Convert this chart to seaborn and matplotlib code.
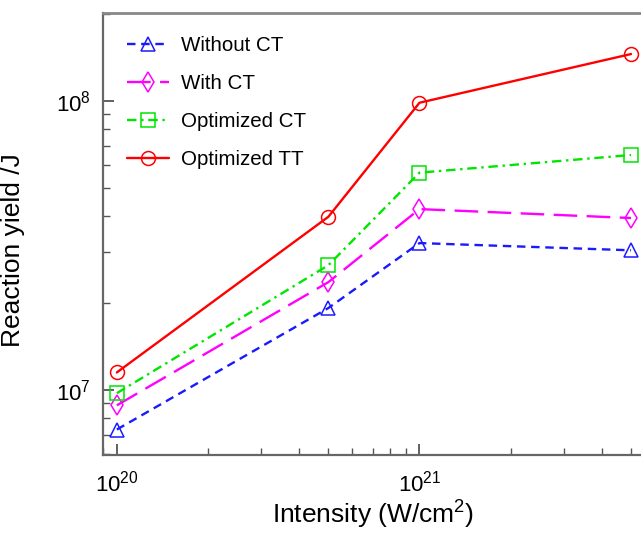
import matplotlib
matplotlib.use("Agg")
import matplotlib.pyplot as plt
import seaborn as sns
import pandas as pd

# ---- data ----
intensity = [1e20, 5e20, 1e21, 5e21]
without_ct = [7.3e6, 1.92e7, 3.22e7, 3.04e7]
with_ct = [8.85e6, 2.36e7, 4.22e7, 3.93e7]
optimized_ct = [9.75e6, 2.70e7, 5.64e7, 6.49e7]
optimized_tt = [1.15e7, 3.97e7, 9.84e7, 1.45e8]
series_names = ["Without CT", "With CT", "Optimized CT", "Optimized TT"]

sns.set_theme(style="white")
plt.rcParams["font.family"] = ["Liberation Sans", "DejaVu Sans"]
plt.rcParams["mathtext.fontset"] = "custom"
plt.rcParams["mathtext.rm"] = "Liberation Sans"
plt.rcParams["mathtext.it"] = "Liberation Sans:italic"
plt.rcParams["text.color"] = "black"
plt.rcParams["axes.labelcolor"] = "black"

fig = plt.figure(figsize=(6.41, 5.36), dpi=100)
ax = fig.add_axes([103 / 641, 81 / 536, 552 / 641, 442 / 536])

styles = {
    "Without CT": dict(color="#1a1aff", marker="^", linestyle=(0, (3.6, 2.4))),
    "With CT": dict(color="#ff00ff", marker="d", linestyle=(0, (10, 4))),
    "Optimized CT": dict(color="#00e600", marker="s", linestyle=(0, (4, 2, 1, 2))),
    "Optimized TT": dict(color="#ff0000", marker="o", linestyle="-"),
}
values = [without_ct, with_ct, optimized_ct, optimized_tt]

for name, vals in zip(series_names, values):
    df = pd.DataFrame({"x": intensity, "y": vals})
    st = styles[name]
    sns.lineplot(data=df, x="x", y="y", ax=ax, color=st["color"],
                 marker=st["marker"], linestyle=st["linestyle"],
                 linewidth=1.7, markersize=10, markerfacecolor="none",
                 markeredgecolor=st["color"], markeredgewidth=1.1,
                 label=name, legend=False)

ax.set_xscale("log")
ax.set_yscale("log")
ax.set_xlim(9.0e19, 6.0e21)
ax.set_ylim(5.96e6, 2.01e8)

ax.tick_params(which="both", direction="in", colors="#555555", labelcolor="black",
               labelsize=16)
ax.tick_params(which="major", length=8, width=1.3)
ax.tick_params(which="minor", length=5, width=1.0)
ax.tick_params(axis="x", which="both", bottom=True, top=False, pad=11)
ax.tick_params(axis="y", which="both", left=True, right=False, pad=9)

for side, sp in ax.spines.items():
    sp.set_color("#666666")
    sp.set_linewidth(1.6)
ax.spines["top"].set_color("#888888")
ax.spines["top"].set_linewidth(2.0)

ax.set_xlabel("Intensity (W/cm$^2$)", fontsize=19, labelpad=6)
ax.set_ylabel("Reaction yield /J", fontsize=19)
ax.yaxis.set_label_coords(-0.141, 1 - (250 - 13) / 442)
ax.xaxis.set_label_coords((373 - 103) / 552, -(531 - 455) / 442)
ax.xaxis.label.set_va("bottom")

handles = ax.get_lines()[:4]
leg = ax.legend(handles=handles, labels=series_names, loc="upper left",
                bbox_to_anchor=(111 / 641, 1 - 20 / 536),
                bbox_transform=fig.transFigure, frameon=False, fontsize=14.8,
                handlelength=2.0, handletextpad=0.6, labelspacing=0.92,
                borderpad=0.3)

fig.savefig("out.png", dpi=100)
